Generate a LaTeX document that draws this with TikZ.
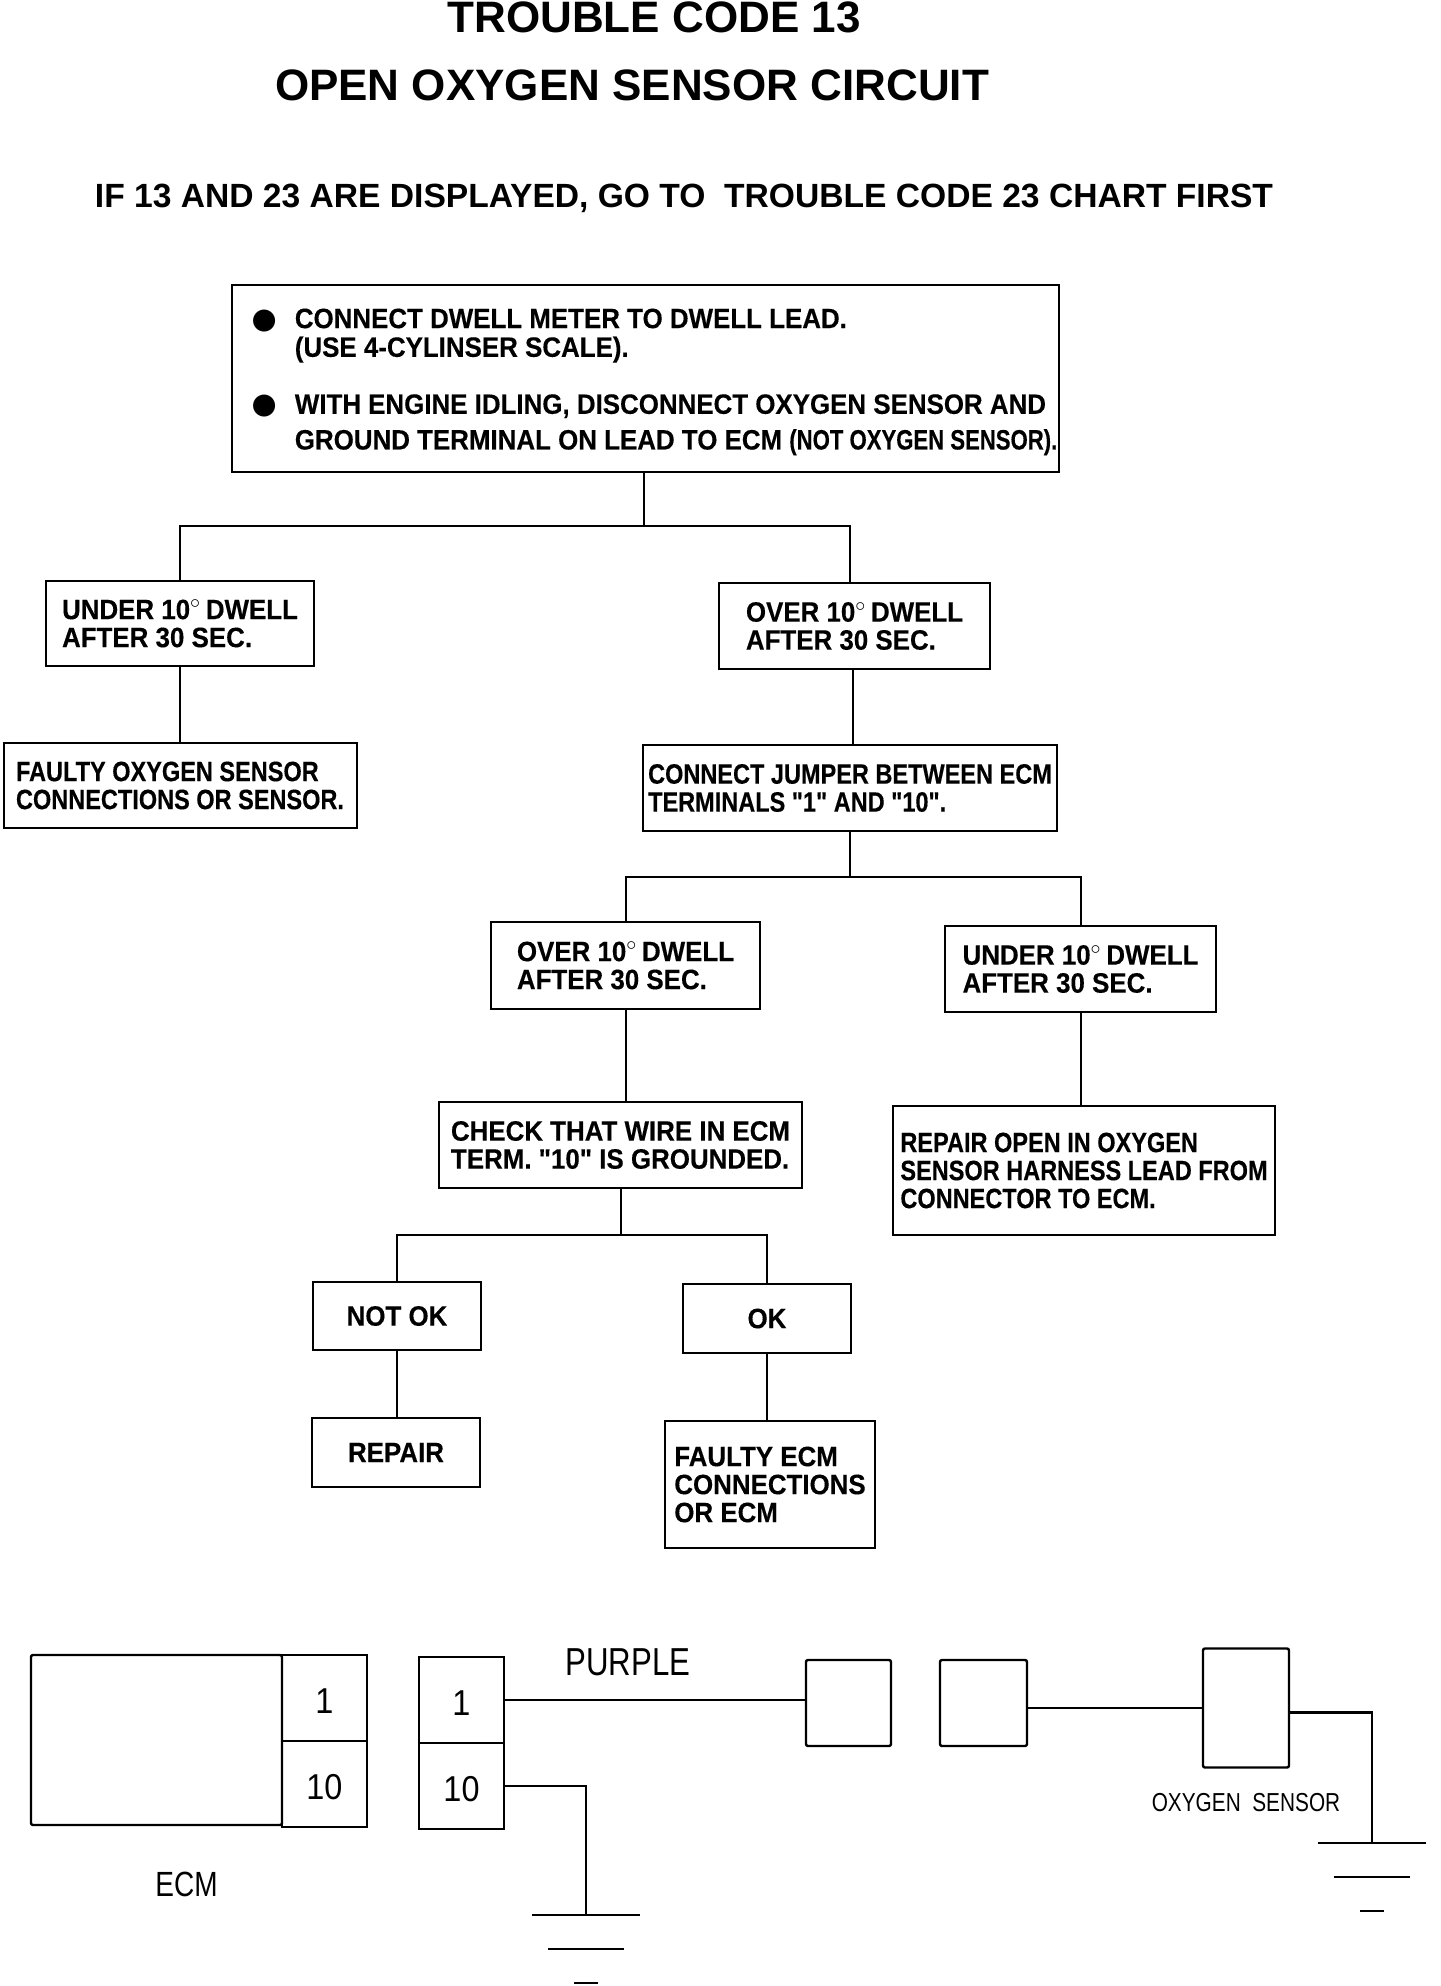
\documentclass[tikz,border=0pt]{standalone}
\usepackage{fontspec}
\usepackage{array}
\setmainfont{Liberation Sans}
\newfontfamily\chartfont[FakeStretch=0.925,BoldFeatures={FakeBold=0.3}]{Liberation Sans}
\newfontfamily\tightfont[FakeStretch=0.84,BoldFeatures={FakeBold=0.3}]{Liberation Sans}
\newfontfamily\narrowfont[FakeStretch=0.79,BoldFeatures={FakeBold=0.3}]{Liberation Sans}
\newfontfamily\plotfont[FakeStretch=0.8]{Liberation Sans}
\newfontfamily\pinfont[FakeStretch=0.9]{Liberation Sans}
\newfontfamily\symfont{DejaVu Sans}
\usetikzlibrary{positioning,calc}

\begin{document}
\begin{tikzpicture}[
  chartbox/.style={draw, line width=1pt, align=left, outer sep=0pt, inner sep=0pt,
                   font=\fontsize{14pt}{14pt}\selectfont\chartfont\bfseries},
  tightbox/.style={chartbox, font=\fontsize{14pt}{14pt}\selectfont\tightfont\bfseries},
  headline/.style={inner sep=0pt, font=\fontsize{22pt}{22pt}\selectfont\bfseries},
  pinbox/.style={draw, line width=1.2pt, outer sep=0pt, minimum width=42.5pt, minimum height=43pt,
                 text height=15.5pt, font=\fontsize{18pt}{18pt}\selectfont\pinfont},
  plugbox/.style={draw, line width=1.2pt, rounded corners=1pt, outer sep=0pt},
  plotlabel/.style={inner sep=0pt, font=\plotfont},
  wire/.style={line width=1pt},
  lead/.style={line width=1.2pt}
]
\useasboundingbox (0,0) rectangle (720pt,-993pt);

%% Headings
\node[headline] (codeline) at (327pt,-8.7pt) {TROUBLE CODE 13};
\node[headline] (nameline) at (316pt,-42.5pt) {OPEN OXYGEN SENSOR CIRCUIT};
\node[headline, font=\fontsize{16.8pt}{16.8pt}\selectfont\bfseries] (firstline) at (342pt,-99pt)
  {IF 13 AND 23 ARE DISPLAYED, GO TO\ \ TROUBLE CODE 23 CHART FIRST};

%% First step
\node[chartbox, minimum width=413.5pt, minimum height=93.5pt] (top) at (322.75pt,-189.25pt)
  {\begin{tabular}{@{\hspace{9pt}}c@{\hspace{9pt}}l@{}}
   {\symfont\Large ●} & \rule{0pt}{14.5pt}CONNECT DWELL METER TO DWELL LEAD.\\
    & (USE 4-CYLINSER SCALE).\\[14.5pt]
   {\symfont\Large ●} & WITH ENGINE IDLING, DISCONNECT OXYGEN SENSOR AND\\[3.5pt]
    & GROUND TERMINAL ON LEAD TO ECM {\narrowfont (NOT OXYGEN SENSOR).}
   \end{tabular}};

%% First branch
\coordinate[below=27pt of top, xshift=-1pt] (topfork);
\node[chartbox, minimum width=134pt, minimum height=42.5pt, below=54.5pt of top, xshift=-232.75pt] (undera)
  {UNDER 10$^\circ$\,DWELL\\AFTER 30 SEC.};
\node[chartbox, minimum width=135.5pt, minimum height=43pt, below=55.5pt of top, xshift=104.5pt] (overa)
  {OVER 10$^\circ$\,DWELL\\AFTER 30 SEC.};
\node[tightbox, minimum width=176.5pt, minimum height=42.5pt, below=38.5pt of undera] (faultsens)
  {FAULTY OXYGEN SENSOR\\CONNECTIONS OR SENSOR.};
\node[tightbox, minimum width=207pt, minimum height=43pt, below=38pt of overa, xshift=-2.25pt] (jumper)
  {CONNECT JUMPER BETWEEN ECM\\TERMINALS "1" AND "10".};

\draw[wire] (topfork |- top.south) -- (topfork);
\draw[wire] (undera.north) |- (topfork) -| ([xshift=-2.5pt]overa.north);
\draw[wire] (undera.south) -- (faultsens.north);
\draw[wire] ([xshift=-1pt]overa.south) -- ([xshift=-1pt]overa.south |- jumper.north);

%% Second branch
\coordinate[below=23pt of jumper] (jumperfork);
\node[chartbox, minimum width=134.5pt, minimum height=43.5pt, below=45.5pt of jumper, xshift=-112.25pt] (overb)
  {OVER 10$^\circ$\,DWELL\\AFTER 30 SEC.};
\node[chartbox, minimum width=135.5pt, minimum height=43pt, below=47.5pt of jumper, xshift=115.25pt] (underb)
  {UNDER 10$^\circ$\,DWELL\\AFTER 30 SEC.};
\node[chartbox, minimum width=181.5pt, minimum height=43pt, below=46.5pt of overb, xshift=-2.5pt] (check)
  {CHECK THAT WIRE IN ECM\\TERM. "10" IS GROUNDED.};
\node[tightbox, minimum width=191pt, minimum height=64.5pt, below=47pt of underb, xshift=1.75pt] (repopen)
  {REPAIR OPEN IN OXYGEN\\SENSOR HARNESS LEAD FROM\\CONNECTOR TO ECM.};

\draw[wire] (jumper.south) -- (jumperfork);
\draw[wire] (overb.north) |- (jumperfork) -| (underb.north);
\draw[wire] (overb.south) -- (overb.south |- check.north);
\draw[wire] (underb.south) -- (underb.south |- repopen.north);

%% Third branch
\coordinate[below=23.5pt of check] (checkfork);
\node[chartbox, minimum width=84pt, minimum height=34pt, below=47pt of check, xshift=-111.75pt] (notok) {NOT OK};
\node[chartbox, minimum width=84pt, minimum height=34.5pt, below=48pt of check, xshift=73.25pt] (okay) {OK};
\node[chartbox, minimum width=84pt, minimum height=34.5pt, below=34pt of notok, xshift=-0.5pt] (repair) {REPAIR};
\node[chartbox, minimum width=105pt, minimum height=63.5pt, below=34pt of okay, xshift=1.5pt] (faultecm)
  {FAULTY ECM\\CONNECTIONS\\OR ECM};

\draw[wire] (check.south) -- (checkfork);
\draw[wire] (notok.north) |- (checkfork) -| (okay.north);
\draw[wire] (notok.south) -- (notok.south |- repair.north);
\draw[wire] (okay.south) -- (okay.south |- faultecm.north);

%% ECM and its pins
\node[plugbox, minimum width=125.5pt, minimum height=85pt] (ecmblock) at (78.25pt,-870pt) {};
\node[pinbox, anchor=north west] (ecmone) at (ecmblock.north east) {1};
\node[pinbox, below=0pt of ecmone] (ecmten) {10};
\node[plotlabel, font=\fontsize{17.5pt}{17.5pt}\selectfont\plotfont, below=23.5pt of ecmblock, xshift=15pt] (ecmlabel) {ECM};

%% Harness side
\node[pinbox, right=26pt of ecmone, yshift=-1pt] (connone) {1};
\node[pinbox, below=0pt of connone] (connten) {10};
\node[plugbox, minimum width=42.5pt, minimum height=43pt, right=151pt of connone, yshift=-1.5pt] (plugl) {};
\node[plugbox, minimum width=43.5pt, minimum height=43pt, right=24.5pt of plugl] (plugr) {};
\node[plugbox, minimum width=43pt, minimum height=59.5pt, right=88pt of plugr, yshift=-2.5pt] (sensor) {};
\node[plotlabel, font=\fontsize{13pt}{13pt}\selectfont\plotfont, below=12.5pt of sensor] (senslabel) {OXYGEN\ \ SENSOR};
\node[plotlabel, font=\fontsize{19.5pt}{19.5pt}\selectfont\plotfont, above right=12pt and 30.5pt of connone.east] (purple) {PURPLE};

%% Leads and grounds
\coordinate (gndl) at ($(connten.east)+(41pt,-64.5pt)$);
\coordinate (gndr) at ($(sensor.east)+(41.5pt,-67.5pt)$);
\draw[lead] (connone.east) -- (connone.east -| plugl.west);
\draw[lead] (plugr.east |- sensor.west) -- (sensor.west);
\draw[lead] (connten.east) -| (gndl);
\draw[lead] ([yshift=-2.25pt]sensor.east) -| (gndr);
\foreach \gnd in {gndl,gndr}
  \foreach \dy/\hw in {0/27,17/19,34/6}
    \draw[lead] ($(\gnd)+(-\hw pt,-\dy pt)$) -- ($(\gnd)+(\hw pt,-\dy pt)$);

\end{tikzpicture}
\end{document}
